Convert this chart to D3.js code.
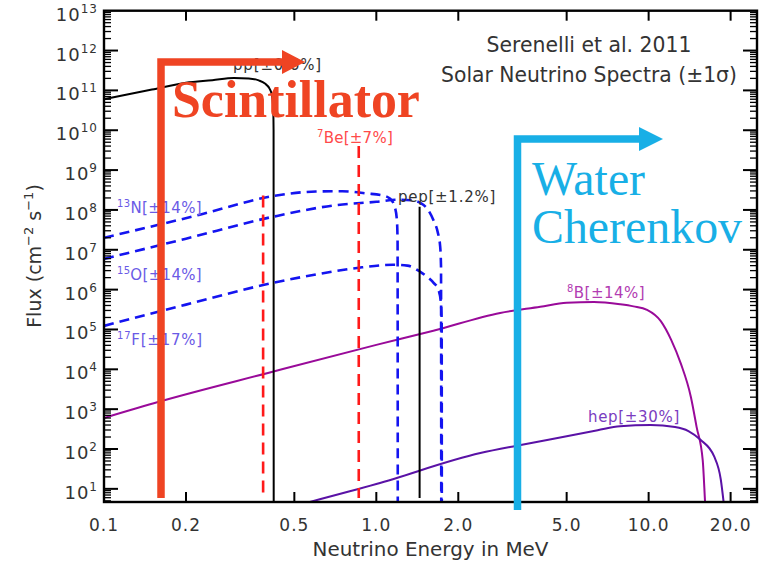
<!DOCTYPE html>
<html>
<head>
<meta charset="utf-8">
<script src="https://cdn.jsdelivr.net/npm/d3@7/dist/d3.min.js"></script>
<style>
  body { margin: 0; background: #fff; }
</style>
</head>
<body>
<svg id="chart" width="769" height="562"></svg>
<script>
// ---- data (energy in MeV, flux in cm^-2 s^-1 MeV^-1) ----
const ppE = [0.1, 0.15, 0.2, 0.25, 0.3, 0.34, 0.37, 0.39, 0.405, 0.413, 0.418, 0.4195, 0.42];
const ppF = [6e10, 1.05e11, 1.55e11, 1.8e11, 2.05e11, 2.0e11, 1.78e11, 1.48e11, 1.12e11, 8e10, 4e10, 1e10, 1];

const be7E = [0.384, 0.862];
const be7F = [2.3e8, 4.0e9];

const pepE = [1.442];
const pepF = [1.2e8];

const n13E = [0.1, 0.225, 0.42, 0.6, 0.75, 0.92, 1.06, 1.125, 1.17, 1.19, 1.197, 1.199];
const n13F = [2.0e7, 7.6e7, 2.24e8, 2.9e8, 2.95e8, 2.6e8, 2.3e8, 1.9e8, 1.17e8, 5.6e7, 1.6e7, 1];

const o15E = [0.1, 0.2, 0.42, 0.7, 1.0, 1.2, 1.35, 1.45, 1.55, 1.62, 1.68, 1.715, 1.728, 1.732];
const o15F = [5.9e6, 1.9e7, 6.8e7, 1.3e8, 1.6e8, 1.8e8, 1.75e8, 1.5e8, 1.0e8, 5.6e7, 2.8e7, 1.26e7, 4e6, 1];

const f17E = [0.1, 0.2, 0.384, 0.6, 0.85, 1.15, 1.3, 1.45, 1.55, 1.62, 1.69, 1.725, 1.738, 1.74];
const f17F = [1.23e5, 4.2e5, 1.3e6, 2.4e6, 3.5e6, 4.2e6, 4.0e6, 2.8e6, 2.0e6, 1.5e6, 1.0e6, 5e5, 1.6e5, 1];

const b8E = [0.1, 0.16, 0.4, 1.0, 1.62, 2.85, 4.0, 5.0, 6.3, 7.85, 8.8, 9.87, 11.1, 12.1, 13.1, 14.3, 15.0, 15.8, 16.1, 16.3];
const b8F = [600, 1550, 8100, 4.1e4, 9.3e4, 2.6e5, 3.7e5, 4.7e5, 4.9e5, 4.3e5, 3.8e5, 3.1e5, 1.6e5, 5.5e4, 1.45e4, 2.0e3, 360, 52, 5.2, 1];

const hepE = [0.57, 1.0, 2.41, 3.39, 5.0, 6.5, 7.85, 10.17, 12.5, 14.0, 15.5, 17.4, 18.4, 18.9];
const hepF = [4.7, 13.2, 79, 126, 209, 295, 372, 398, 355, 282, 170, 65, 17.4, 4];

const xTicks = [0.1, 0.2, 0.5, 1, 2, 5, 10, 20];
const xTickLabels = ["0.1", "0.2", "0.5", "1.0", "2.0", "5.0", "10.0", "20.0"];
const yExponents = [1, 2, 3, 4, 5, 6, 7, 8, 9, 10, 11, 12, 13];

const titleLines = ["Serenelli et al. 2011", "Solar Neutrino Spectra (\u00b11\u03c3)"];

// ---- layout ----
const svg = d3.select("#chart")
  , plot = {left: 104, right: 757, top: 10.7, bottom: 502}
  , ink = "#333"
  , sans = "'DejaVu Sans', sans-serif"
  , serif = "'Liberation Serif', 'DejaVu Serif', serif";

const xScale = d3.scaleLog()
  .domain([0.1, 25])
  .range([plot.left, plot.right]);

const yScale = d3.scaleLog()
  .domain([Math.pow(10, 0.67), 1e13])
  .range([plot.bottom, plot.top]);

// stretch a text so that it spans a given width
const fitWidth = (sel, w) => {
  const fs = parseFloat(sel.attr("font-size"));
  sel.attr("font-size", fs * w / sel.node().getComputedTextLength());
};

svg.append("clipPath").attr("id", "plotClip")
  .append("rect")
  .attr("x", plot.left).attr("y", plot.top)
  .attr("width", plot.right - plot.left).attr("height", plot.bottom - plot.top);

const g = svg.append("g").attr("clip-path", "url(#plotClip)");

const zip = (E, F) => E.map((e, i) => ({e: e, f: F[i]}));

const line = d3.line()
  .x(d => xScale(d.e))
  .y(d => yScale(Math.max(d.f, 0.5)))
  .curve(d3.curveMonotoneX);

// spectra
const drawCurve = (E, F, color, dash) => {
  g.append("path")
    .attr("d", line(zip(E, F)))
    .attr("fill", "none")
    .attr("stroke", color)
    .attr("stroke-width", dash ? 2.6 : 2)
    .attr("stroke-dasharray", dash || null);
};

drawCurve(b8E, b8F, "#990a99");
drawCurve(hepE, hepF, "#5a12a6");
drawCurve(ppE, ppF, "#000");
drawCurve(n13E, n13F, "#1414f0", "10,6");
drawCurve(o15E, o15F, "#1414f0", "10,6");
drawCurve(f17E, f17F, "#1414f0", "10,6");

// lines
const drawLine = (E, F, color, dash) => {
  g.selectAll(null)
    .data(zip(E, F))
    .enter()
    .append("line")
    .attr("x1", d => xScale(d.e)).attr("x2", d => xScale(d.e))
    .attr("y1", d => yScale(d.f)).attr("y2", plot.bottom - 4)
    .attr("stroke", color)
    .attr("stroke-width", dash ? 2.6 : 2)
    .attr("stroke-dasharray", dash || null);
};

drawLine(be7E, be7F, "#ff1a1a", "12,7");
drawLine(pepE, pepF, "#000");

// ---- frame and ticks ----
svg.append("rect")
  .attr("x", plot.left).attr("y", plot.top)
  .attr("width", plot.right - plot.left).attr("height", plot.bottom - plot.top)
  .attr("fill", "none").attr("stroke", "#000").attr("stroke-width", 2.4);

const ticksG = svg.append("g").attr("stroke", "#000").attr("stroke-width", 2);

xTicks.slice(1).forEach(t => {
  ticksG.append("line")
    .attr("x1", xScale(t)).attr("x2", xScale(t))
    .attr("y1", plot.bottom).attr("y2", plot.bottom - 10);
  ticksG.append("line")
    .attr("x1", xScale(t)).attr("x2", xScale(t))
    .attr("y1", plot.top).attr("y2", plot.top + 10);
});

const yDomain = yScale.domain();
for (let k = 0; k <= 12; k++) {
  for (let m = 1; m <= 9; m++) {
    const v = m * Math.pow(10, k);
    if (v < yDomain[0] || v >= yDomain[1]) continue;
    const len = m === 1 ? 14 : 7
      , y = yScale(v);
    ticksG.append("line")
      .attr("x1", plot.left).attr("x2", plot.left + len)
      .attr("y1", y).attr("y2", y)
      .attr("stroke-width", m === 1 ? 2 : 1.3);
    ticksG.append("line")
      .attr("x1", plot.right).attr("x2", plot.right - len)
      .attr("y1", y).attr("y2", y)
      .attr("stroke-width", m === 1 ? 2 : 1.3);
  }
}

// tick labels
svg.selectAll(".xlab")
  .data(xTicks)
  .enter()
  .append("text")
  .attr("class", "xlab")
  .attr("x", d => xScale(d))
  .attr("y", 531)
  .attr("text-anchor", "middle")
  .style("font-family", sans)
  .style("letter-spacing", "1px")
  .attr("font-size", 17)
  .attr("fill", ink)
  .text((d, i) => xTickLabels[i]);

const ylab = svg.selectAll(".ylab")
  .data(yExponents)
  .enter()
  .append("text")
  .attr("class", "ylab")
  .attr("x", 98)
  .attr("y", d => yScale(Math.pow(10, d)) + 10)
  .attr("text-anchor", "end")
  .style("font-family", sans)
  .style("letter-spacing", "1px")
  .attr("font-size", 18)
  .attr("fill", ink);
ylab.append("tspan").text("10");
ylab.append("tspan").attr("dy", -8).attr("font-size", 12).text(d => d);

// axis titles
const xtitle = svg.append("text")
  .attr("x", (plot.left + plot.right) / 2)
  .attr("y", 556)
  .attr("text-anchor", "middle")
  .style("font-family", sans)
  .attr("font-size", 18)
  .attr("fill", ink)
  .text("Neutrino Energy in MeV");
fitWidth(xtitle, 236);

const ytitle = svg.append("text")
  .attr("transform", "translate(41,256) rotate(-90)")
  .attr("text-anchor", "middle")
  .style("font-family", sans)
  .attr("font-size", 19)
  .attr("fill", ink);
ytitle.append("tspan").text("Flux (cm");
ytitle.append("tspan").attr("dy", -8).attr("font-size", 13).text("\u22122");
ytitle.append("tspan").attr("dy", 8).text(" s");
ytitle.append("tspan").attr("dy", -8).attr("font-size", 13).text("\u22121");
ytitle.append("tspan").attr("dy", 8).text(")");

// title block
const titleWidths = [205, 296];
svg.selectAll(".title")
  .data(titleLines)
  .enter()
  .append("text")
  .attr("class", "title")
  .attr("x", 589)
  .attr("y", (d, i) => 52 + i * 30)
  .attr("text-anchor", "middle")
  .style("font-family", sans)
  .attr("font-size", 19)
  .attr("fill", ink)
  .text(d => d)
  .each(function(d, i) { fitWidth(d3.select(this), titleWidths[i]); });

// spectrum labels: [sup, main, x, y, colour, width]
const labelDefs = [
  ["", "pp[\u00b10.6%]", 233, 70, ink, 89],
  ["7", "Be[\u00b17%]", 317, 143, "#ff4a4a", 76],
  ["", "pep[\u00b11.2%]", 398, 202, ink, 98],
  ["13", "N[\u00b114%]", 117, 213, "#6a5ae6", 85],
  ["15", "O[\u00b114%]", 117, 280, "#6a5ae6", 85],
  ["17", "F[\u00b117%]", 117, 345, "#6a5ae6", 86],
  ["8", "B[\u00b114%]", 567, 298, "#b23cb2", 78],
  ["", "hep[\u00b130%]", 588, 422, "#7a3cc0", 92]
];
labelDefs.forEach(d => {
  const t = svg.append("text")
    .attr("x", d[2]).attr("y", d[3])
    .style("font-family", sans)
    .attr("font-size", 15)
    .attr("fill", d[4]);
  if (d[0]) t.append("tspan").attr("font-size", 10).attr("dy", -6).text(d[0]);
  t.append("tspan").attr("dy", d[0] ? 6 : 0).text(d[1]);
  const len = t.node().getComputedTextLength()
    , n = (d[0] + d[1]).length;
  t.style("letter-spacing", ((d[5] - len) / n) + "px");
});

// ---- detector overlays ----
const arrow = (x, yBottom, yTop, xEnd, tip, half, color) => {
  svg.append("path")
    .attr("d", `M${x},${yBottom}V${yTop}H${xEnd}`)
    .attr("fill", "none")
    .attr("stroke", color)
    .attr("stroke-width", 7.5)
    .attr("stroke-linejoin", "miter")
    .attr("stroke-linecap", "butt");
  svg.append("path")
    .attr("d", `M${xEnd - 1},${yTop - half}L${tip},${yTop}L${xEnd - 1},${yTop + half}Z`)
    .attr("fill", color);
};

arrow(161, 498, 62, 283, 305, 12, "#ef4423");
arrow(517.5, 510, 139, 640, 663, 12, "#18afe6");

const scint = svg.append("text")
  .attr("x", 172).attr("y", 117)
  .style("font-family", serif)
  .style("font-weight", "bold")
  .attr("font-size", 42)
  .attr("fill", "#ef4423")
  .text("Scintillator");
fitWidth(scint, 248);

const wc = svg.selectAll(".wc")
  .data(["Water", "Cherenkov"])
  .enter()
  .append("text")
  .attr("class", "wc")
  .attr("x", 532)
  .attr("y", (d, i) => 195 + i * 48)
  .style("font-family", serif)
  .attr("font-size", 44)
  .attr("fill", "#18afe6")
  .text(d => d);
const cherenkov = d3.select(wc.nodes()[1]);
fitWidth(cherenkov, 210);
wc.attr("font-size", cherenkov.attr("font-size"));
</script>
</body>
</html>
